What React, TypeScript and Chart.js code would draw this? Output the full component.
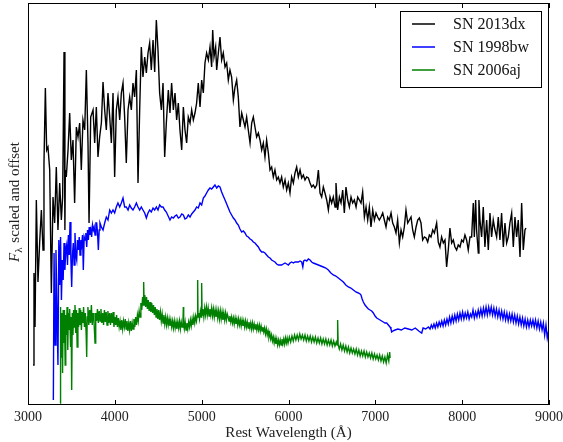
import React, { useEffect, useRef } from 'react';
import { Chart, registerables } from 'chart.js';

Chart.register(...registerables);

// ---- data (wavelength in Å, flux scaled and offset, arbitrary units) ----
const xTicks = [3000, 4000, 5000, 6000, 7000, 8000, 9000];
const seriesNames = ['SN 2013dx', 'SN 1998bw', 'SN 2006aj'];
const seriesColors = ['#000000', '#0000ff', '#008000'];

const sn2013dx: [number, number][] = [
  [3058, 40], [3069, 132], [3081, 78], [3096, 205], [3115, 123], [3134, 162], [3154, 195], [3173, 155],
  [3184, 242], [3200, 317], [3215, 255], [3230, 258], [3250, 235], [3269, 112], [3288, 208], [3307, 182],
  [3326, 238], [3345, 175], [3365, 222], [3384, 185], [3399, 208], [3415, 353], [3425, 175], [3430, 235],
  [3441, 228], [3461, 255], [3480, 292], [3499, 245], [3518, 265], [3537, 202], [3557, 278], [3576, 268],
  [3595, 282], [3614, 235], [3633, 285], [3653, 275], [3672, 335], [3691, 262], [3703, 182], [3722, 288],
  [3749, 295], [3768, 262], [3787, 298], [3806, 248], [3825, 268], [3845, 282], [3864, 323], [3883, 295],
  [3902, 275], [3921, 312], [3941, 288], [3960, 262], [3979, 312], [3998, 228], [4017, 295], [4036, 308],
  [4056, 285], [4075, 312], [4094, 322], [4113, 288], [4132, 242], [4152, 295], [4171, 308], [4190, 295],
  [4209, 322], [4228, 308], [4248, 335], [4267, 222], [4286, 295], [4305, 358], [4324, 328], [4344, 348],
  [4363, 332], [4382, 352], [4401, 362], [4420, 335], [4440, 365], [4459, 333], [4478, 385], [4497, 355],
  [4516, 312], [4536, 295], [4555, 322], [4574, 248], [4593, 282],
  [4616, 315], [4635, 292], [4654, 322], [4674, 295], [4693, 312], [4712, 285], [4731, 302], [4750, 275],
  [4770, 255], [4789, 298], [4808, 275], [4827, 262], [4846, 288], [4866, 282], [4885, 295], [4904, 285],
  [4923, 292], [4942, 302], [4961, 322], [4981, 298], [5000, 325], [5019, 312], [5038, 342], [5057, 352],
  [5077, 345], [5096, 358], [5115, 338], [5127, 375], [5142, 348], [5161, 358], [5173, 335], [5192, 352],
  [5211, 368], [5230, 345], [5249, 352], [5269, 338], [5288, 342], [5307, 325], [5326, 335], [5345, 328],
  [5365, 305], [5384, 318], [5403, 325], [5422, 308], [5441, 278], [5461, 292], [5480, 285], [5499, 278],
  [5518, 288], [5537, 275], [5557, 262], [5576, 282], [5595, 288], [5614, 278], [5633, 268], [5653, 272],
  [5672, 265], [5691, 255], [5710, 262], [5729, 248], [5748, 265], [5768, 252], [5787, 235], [5806, 238],
  [5825, 228], [5844, 235], [5864, 225], [5883, 228], [5902, 222], [5921, 228], [5940, 218], [5960, 225],
  [5979, 215], [5998, 222], [6017, 212], [6036, 228], [6056, 222], [6075, 232], [6094, 238],
  [6113, 228], [6133, 235], [6152, 227], [6171, 230], [6190, 225], [6209, 228], [6229, 227], [6248, 222],
  [6267, 218], [6286, 220], [6305, 217], [6325, 220], [6344, 235], [6363, 212], [6382, 208], [6401, 218],
  [6420, 212], [6440, 205], [6459, 195], [6478, 208], [6497, 202], [6516, 208], [6536, 198], [6547, 222],
  [6566, 195], [6586, 208], [6605, 202], [6624, 215], [6643, 192], [6662, 218], [6682, 205], [6701, 198],
  [6720, 208], [6739, 202], [6758, 205], [6778, 198], [6797, 208], [6816, 205], [6835, 202], [6854, 213],
  [6874, 188], [6893, 198], [6912, 185], [6931, 198], [6950, 178], [6970, 195], [6989, 185], [7008, 192],
  [7027, 188], [7046, 185], [7065, 188], [7085, 192], [7104, 185], [7123, 178], [7142, 188], [7161, 185],
  [7181, 192], [7200, 182], [7219, 178], [7238, 172], [7257, 185], [7277, 162], [7296, 175], [7315, 168],
  [7334, 178], [7353, 195], [7373, 182], [7392, 185], [7411, 188], [7430, 175], [7449, 168], [7469, 178],
  [7488, 185], [7507, 187], [7526, 182], [7545, 165], [7565, 168], [7584, 167], [7603, 163], [7622, 170],
  [7641, 168], [7661, 175], [7680, 172],
  [7706, 182], [7725, 163], [7744, 158], [7763, 168], [7783, 162], [7802, 165], [7821, 138], [7840, 155],
  [7859, 177], [7879, 162], [7898, 165], [7917, 158], [7936, 155], [7955, 160], [7975, 158], [7994, 165],
  [8013, 163], [8032, 170], [8051, 165], [8070, 155], [8090, 168], [8109, 168], [8128, 202], [8140, 168],
  [8155, 205], [8166, 175], [8186, 152], [8193, 205], [8205, 185], [8224, 168], [8243, 198], [8262, 158],
  [8282, 185], [8301, 155], [8320, 192], [8339, 168], [8358, 185], [8378, 175], [8397, 168], [8416, 188],
  [8435, 165], [8454, 192], [8474, 158], [8493, 182], [8512, 162], [8531, 168], [8550, 182], [8570, 192],
  [8589, 158], [8608, 188], [8627, 168], [8646, 185], [8666, 148], [8685, 202], [8704, 155], [8723, 175],
  [8735, 177],
];

const sn1998bw: [number, number][] = [
  [3292, 5], [3300, 152], [3312, 60], [3322, 155], [3335, 90], [3345, 40], [3355, 165], [3365, 120],
  [3375, 168], [3385, 105], [3395, 145], [3405, 125], [3415, 162], [3425, 135], [3435, 155], [3445, 160],
  [3455, 140], [3465, 170], [3475, 150], [3484, 183], [3494, 145], [3503, 118], [3512, 150], [3522, 162],
  [3531, 140], [3541, 172], [3551, 150], [3561, 145], [3570, 165], [3580, 155], [3590, 168], [3599, 150],
  [3609, 165], [3618, 160], [3628, 170], [3637, 135], [3647, 168], [3657, 165], [3666, 172], [3676, 158],
  [3686, 175], [3695, 165], [3705, 178], [3714, 170], [3724, 175], [3733, 168], [3743, 180], [3753, 175],
  [3762, 178], [3772, 170], [3782, 182], [3791, 182], [3801, 172], [3810, 155], [3820, 175], [3829, 182],
  [3845, 178], [3864, 175], [3883, 182], [3902, 188], [3921, 185], [3941, 195], [3960, 192], [3979, 195],
  [3998, 192], [4017, 198], [4036, 202], [4056, 198], [4075, 202], [4094, 207], [4113, 198], [4132, 198],
  [4152, 195], [4171, 200], [4190, 197], [4209, 195], [4228, 198], [4248, 202], [4267, 198], [4286, 195],
  [4305, 198], [4324, 195], [4344, 192], [4363, 187], [4382, 192], [4401, 195], [4420, 193], [4440, 197],
  [4459, 195], [4478, 198], [4497, 195], [4516, 200], [4536, 198], [4555, 198], [4574, 195], [4593, 193],
  [4635, 185], [4654, 188], [4674, 187], [4693, 189], [4712, 190], [4731, 187], [4750, 188], [4770, 191],
  [4789, 190], [4808, 186], [4827, 187], [4846, 190], [4866, 188], [4885, 191], [4904, 193], [4923, 195],
  [4942, 198], [4961, 197], [4981, 202], [5000, 200], [5019, 207], [5038, 209], [5057, 212], [5077, 215],
  [5096, 217], [5115, 216], [5134, 218], [5153, 220], [5173, 217], [5192, 219], [5211, 218], [5230, 213],
  [5249, 209], [5269, 205], [5288, 201], [5307, 197], [5326, 193], [5345, 190], [5365, 187], [5384, 185],
  [5403, 182], [5422, 180], [5441, 176], [5461, 173], [5480, 174], [5499, 172], [5518, 169], [5537, 168],
  [5557, 166], [5576, 165], [5595, 163], [5614, 162], [5633, 160], [5653, 158], [5672, 155], [5691, 153],
  [5710, 153], [5729, 152], [5748, 150], [5768, 148], [5787, 147], [5806, 145], [5825, 144], [5844, 143],
  [5864, 141], [5883, 140], [5902, 140], [5921, 140], [5940, 141], [5960, 142], [5979, 141], [5998, 140],
  [6017, 142], [6036, 143], [6056, 142], [6075, 143], [6094, 143], [6113, 143], [6133, 144], [6152, 143],
  [6165, 138], [6175, 144], [6190, 145], [6210, 144], [6229, 146], [6248, 145], [6267, 143], [6286, 142],
  [6315, 141], [6344, 140], [6372, 139], [6401, 138], [6430, 137], [6459, 135], [6488, 132], [6516, 130],
  [6545, 129], [6574, 127], [6603, 125], [6632, 123], [6660, 120], [6689, 118], [6718, 117], [6747, 115],
  [6776, 113], [6804, 112], [6825, 111], [6835, 110], [6848, 106], [6862, 103], [6881, 100], [6900, 98],
  [6920, 96], [6939, 95], [6958, 94], [6977, 92], [6997, 89], [7016, 87], [7035, 86], [7054, 85],
  [7073, 84], [7092, 83], [7111, 82], [7131, 82], [7150, 80], [7169, 78], [7180, 76], [7188, 73],
  [7200, 74], [7227, 75], [7260, 76], [7300, 75], [7340, 77], [7380, 76], [7420, 75], [7460, 77],
  [7500, 74], [7534, 72], [7550, 77], [7580, 76], [7611, 78], [7630, 76], [7645, 80], [7660, 77],
  [7675, 81], [7690, 77], [7705, 82], [7720, 78], [7735, 83], [7750, 79], [7765, 84], [7780, 79],
  [7795, 85], [7810, 80], [7825, 86], [7840, 81], [7855, 88], [7870, 82], [7885, 89], [7900, 83],
  [7915, 90], [7930, 84], [7945, 91], [7960, 85], [7975, 92], [7990, 86], [8005, 93], [8020, 86],
  [8035, 92], [8050, 87], [8065, 93], [8080, 86], [8095, 91], [8110, 88], [8125, 95], [8140, 87],
  [8155, 93], [8170, 88], [8185, 95], [8200, 89], [8215, 96], [8230, 89], [8245, 97], [8260, 90],
  [8275, 98], [8290, 90], [8305, 98], [8320, 91], [8335, 98], [8350, 90], [8365, 97], [8380, 89],
  [8395, 96], [8410, 88], [8425, 95], [8440, 87], [8455, 94], [8470, 86], [8485, 93], [8500, 85],
  [8515, 92], [8530, 84], [8545, 91], [8560, 84], [8575, 91], [8590, 83], [8605, 90], [8620, 82],
  [8635, 89], [8650, 81], [8665, 88], [8680, 80], [8695, 87], [8710, 79], [8725, 86], [8740, 78],
  [8755, 85], [8770, 78], [8785, 85], [8800, 79], [8815, 85], [8830, 78], [8845, 85], [8860, 77],
  [8875, 84], [8890, 76], [8905, 83], [8920, 75], [8935, 82], [8950, 70], [8965, 80], [8980, 67],
  [8995, 74], [9000, 70],
];

const sn2006aj: [number, number][] = [
  [3369, 2], [3375, 98], [3382, 48], [3390, 92], [3398, 32], [3405, 95], [3412, 62], [3420, 95],
  [3428, 40], [3435, 90], [3442, 70], [3450, 98], [3458, 55], [3465, 92], [3472, 75], [3480, 96],
  [3490, 58], [3497, 88], [3503, 15], [3510, 92], [3518, 70], [3525, 95], [3533, 78], [3541, 100],
  [3550, 72], [3558, 95], [3566, 58], [3575, 92], [3583, 78], [3590, 97], [3598, 80], [3607, 95],
  [3615, 75], [3624, 93], [3632, 82], [3640, 98], [3650, 78], [3660, 92], [3670, 70], [3676, 48],
  [3682, 88], [3690, 98], [3700, 80], [3710, 95], [3720, 82], [3730, 100], [3740, 80], [3750, 92],
  [3760, 84], [3772, 62], [3780, 92], [3790, 84], [3800, 96], [3810, 82], [3820, 94], [3830, 84],
  [3840, 96], [3850, 82], [3860, 92], [3870, 80], [3880, 95], [3890, 83], [3900, 93], [3910, 80],
  [3920, 94], [3930, 82], [3940, 92], [3950, 80], [3960, 92], [3970, 82], [3980, 93], [3990, 78],
  [4000, 88], [4010, 80], [4020, 90], [4030, 78], [4040, 87], [4050, 78], [4060, 84], [4070, 75],
  [4080, 85], [4090, 76], [4100, 84], [4110, 78], [4120, 86], [4130, 76], [4140, 84], [4150, 74],
  [4160, 82], [4170, 75], [4180, 84], [4190, 74], [4200, 82], [4210, 76], [4220, 86], [4230, 78],
  [4240, 88], [4250, 80], [4260, 90], [4270, 84], [4280, 94], [4290, 88], [4300, 102], [4310, 95],
  [4320, 108], [4328, 100], [4332, 123], [4338, 100], [4345, 110], [4355, 98], [4365, 108], [4375, 96],
  [4385, 105], [4395, 94], [4405, 103], [4415, 93], [4425, 102], [4435, 92], [4445, 100], [4455, 90],
  [4465, 98], [4475, 88], [4485, 96], [4495, 86], [4505, 95], [4515, 85], [4525, 93], [4535, 84],
  [4545, 91], [4555, 82], [4565, 90], [4575, 81], [4585, 88], [4595, 80], [4605, 87], [4615, 80],
  [4625, 86], [4635, 79], [4645, 85], [4655, 78], [4665, 84], [4675, 77], [4685, 84], [4695, 77],
  [4705, 83], [4715, 76], [4725, 83], [4735, 77], [4745, 84], [4755, 76], [4765, 83], [4775, 78],
  [4785, 84], [4789, 98], [4793, 80], [4800, 76], [4810, 83], [4820, 75], [4830, 82], [4840, 76],
  [4850, 83], [4860, 78], [4870, 85], [4880, 79], [4890, 86], [4900, 80], [4910, 88], [4920, 82],
  [4930, 89], [4940, 84], [4950, 90], [4954, 125], [4958, 88], [4965, 92], [4975, 86], [4985, 94],
  [4995, 88], [5000, 122], [5005, 90], [5015, 96], [5025, 88], [5035, 97], [5045, 90], [5055, 98],
  [5065, 90], [5075, 97], [5085, 89], [5095, 96], [5105, 90], [5115, 97], [5125, 89], [5135, 96],
  [5145, 88], [5155, 95], [5165, 88], [5175, 95], [5185, 87], [5195, 94], [5205, 86], [5215, 94],
  [5225, 86], [5235, 93], [5245, 85], [5255, 92], [5265, 85], [5275, 92], [5285, 85], [5295, 91],
  [5305, 88], [5315, 84], [5325, 89], [5335, 83], [5345, 88], [5355, 82], [5365, 87], [5375, 81],
  [5385, 87], [5395, 81], [5405, 86], [5415, 80], [5425, 86], [5435, 80], [5445, 85], [5455, 79],
  [5465, 85], [5475, 79], [5485, 84], [5495, 78], [5505, 84], [5515, 78], [5525, 83], [5535, 77],
  [5545, 83], [5555, 77], [5565, 82], [5575, 76], [5585, 82], [5595, 76], [5605, 81], [5615, 76],
  [5625, 81], [5635, 75], [5645, 80], [5655, 75], [5665, 80], [5675, 74], [5685, 79], [5695, 74],
  [5705, 78], [5715, 73], [5725, 77], [5735, 71], [5745, 76], [5755, 70], [5765, 74], [5775, 68],
  [5785, 72], [5795, 66], [5805, 70], [5815, 64], [5825, 68], [5835, 62], [5845, 67], [5855, 61],
  [5865, 66], [5875, 60], [5885, 65], [5895, 60], [5905, 65], [5915, 60], [5925, 66], [5935, 61],
  [5945, 66], [5955, 61], [5965, 67], [5975, 62], [5985, 67], [5995, 62], [6010, 68], [6025, 63],
  [6040, 69], [6055, 64], [6070, 70], [6085, 65], [6100, 70], [6115, 65], [6130, 71], [6145, 66],
  [6160, 70], [6175, 65], [6190, 70], [6205, 64], [6220, 69], [6235, 64], [6250, 69], [6265, 63],
  [6280, 68], [6295, 63], [6310, 68], [6325, 62], [6340, 67], [6355, 62], [6370, 67], [6385, 61],
  [6400, 66], [6415, 61], [6430, 66], [6445, 60], [6460, 65], [6475, 60], [6490, 65], [6505, 59],
  [6520, 64], [6535, 59], [6550, 63], [6560, 60], [6566, 85], [6572, 60], [6585, 56], [6600, 61],
  [6615, 55], [6630, 60], [6645, 54], [6660, 59], [6675, 53], [6690, 58], [6705, 52], [6720, 57],
  [6735, 52], [6750, 56], [6765, 51], [6780, 56], [6795, 50], [6810, 55], [6825, 49], [6840, 54],
  [6855, 49], [6870, 54], [6885, 48], [6900, 53], [6915, 48], [6930, 52], [6945, 47], [6960, 52],
  [6975, 46], [6990, 51], [7005, 46], [7020, 50], [7035, 45], [7050, 50], [7065, 44], [7080, 49],
  [7095, 43], [7110, 48], [7125, 42], [7140, 50], [7155, 44], [7165, 53], [7170, 47],
];

const allSeries = [sn2013dx, sn1998bw, sn2006aj];

const X_MIN = 3000;
const X_MAX = 9000;
const Y_MIN = 0;
const Y_MAX = 402;

const SERIF = '"Liberation Serif", "DejaVu Serif", serif';

const framePlugin = {
  id: 'frameTicks',
  afterDatasetsDraw(chart: any) {
    const { ctx, chartArea: a, scales } = chart;
    ctx.save();
    ctx.strokeStyle = '#000';
    ctx.lineWidth = 1;
    ctx.beginPath();
    for (const v of xTicks) {
      const x = Math.round(scales.x.getPixelForValue(v)) + 0.5;
      ctx.moveTo(x, a.bottom);
      ctx.lineTo(x, a.bottom - 5);
      ctx.moveTo(x, a.top);
      ctx.lineTo(x, a.top + 5);
    }
    ctx.stroke();
    ctx.strokeRect(a.left + 0.5, a.top + 0.5, a.right - a.left - 1, a.bottom - a.top - 1);
    ctx.restore();
  },
  afterDraw(chart: any) {
    const { ctx, chartArea: a } = chart;
    // y-axis title: F_lambda scaled and offset
    ctx.save();
    const cx = 15;
    const cy = (a.top + a.bottom) / 2 - 2;
    ctx.translate(cx, cy);
    ctx.rotate(-Math.PI / 2);
    ctx.fillStyle = '#222';
    ctx.textBaseline = 'middle';
    ctx.textAlign = 'left';
    const fMain = `italic 15px ${SERIF}`;
    const fSub = `11px ${SERIF}`;
    const fRest = `15px ${SERIF}`;
    const rest = ' scaled and offset';
    ctx.font = fMain;
    const wF = ctx.measureText('F').width;
    ctx.font = fSub;
    const wL = ctx.measureText('\u03BB').width;
    ctx.font = fRest;
    const wR = ctx.measureText(rest).width;
    let x0 = -(wF + wL + 1 + wR) / 2;
    ctx.font = fMain;
    ctx.fillText('F', x0, 0);
    x0 += wF;
    ctx.font = fSub;
    ctx.fillText('\u03BB', x0, 4);
    x0 += wL + 1;
    ctx.font = fRest;
    ctx.fillText(rest, x0, 0);
    ctx.restore();

    // legend box
    ctx.save();
    const bx = 400, by = 11, bw = 141, bh = 76;
    ctx.fillStyle = '#ffffff';
    ctx.fillRect(bx, by, bw, bh);
    ctx.strokeStyle = '#000';
    ctx.lineWidth = 1;
    ctx.strokeRect(bx + 0.5, by + 0.5, bw, bh);
    ctx.font = `16px ${SERIF}`;
    ctx.textBaseline = 'middle';
    ctx.textAlign = 'left';
    chart.data.datasets.forEach((ds: any, i: number) => {
      const y = by + 13 + i * 23;
      ctx.strokeStyle = ds.borderColor;
      ctx.lineWidth = 1.5;
      ctx.beginPath();
      ctx.moveTo(412, y);
      ctx.lineTo(435, y);
      ctx.stroke();
      ctx.fillStyle = '#111';
      ctx.fillText(ds.label, 453, y + 1);
    });
    ctx.restore();
  },
};

export default function App() {
  const canvasRef = useRef<HTMLCanvasElement | null>(null);

  useEffect(() => {
    if (!canvasRef.current) return;
    const datasets = allSeries.map((s, i) => ({
      label: seriesNames[i],
      data: s.map(([x, y]) => ({ x, y })),
      borderColor: seriesColors[i],
      backgroundColor: seriesColors[i],
      borderWidth: 1.4,
      pointRadius: 0,
      tension: 0,
      fill: false,
      order: 2 - i,
    }));
    const chart = new Chart(canvasRef.current, {
      type: 'line',
      data: { datasets },
      plugins: [framePlugin],
      options: {
        animation: false,
        responsive: false,
        maintainAspectRatio: false,
        layout: { padding: { left: 0, right: 14, top: 3, bottom: 0 } },
        plugins: {
          legend: { display: false },
          tooltip: { enabled: false },
        },
        scales: {
          x: {
            type: 'linear',
            min: X_MIN,
            max: X_MAX,
            grid: { display: false, drawTicks: false },
            border: { display: false },
            ticks: {
              font: { family: SERIF, size: 14 },
              color: '#222',
              padding: 4,
              autoSkip: false,
              maxRotation: 0,
              callback: (v: any) => String(v),
            },
            title: {
              display: true,
              text: 'Rest Wavelength (\u00C5)',
              font: { family: SERIF, size: 15 },
              color: '#222',
              padding: { top: 0, bottom: 0 },
            },
            afterBuildTicks: (scale: any) => {
              scale.ticks = xTicks.map((v) => ({ value: v }));
            },
            afterFit: (scale: any) => {
              scale.height = 37;
              scale.paddingLeft = 0;
              scale.paddingRight = 0;
            },
          },
          y: {
            type: 'linear',
            min: Y_MIN,
            max: Y_MAX,
            grid: { display: false, drawTicks: false },
            border: { display: false },
            ticks: { display: false },
            afterFit: (scale: any) => {
              scale.width = 28;
              scale.paddingTop = 0;
              scale.paddingBottom = 0;
            },
          },
        },
      },
    });
    return () => chart.destroy();
  }, []);

  return (
    <div style={{ position: 'absolute', left: 0, top: 0, width: 563, height: 442, background: '#fff' }}>
      <canvas ref={canvasRef} width={563} height={442} />
    </div>
  );
}
